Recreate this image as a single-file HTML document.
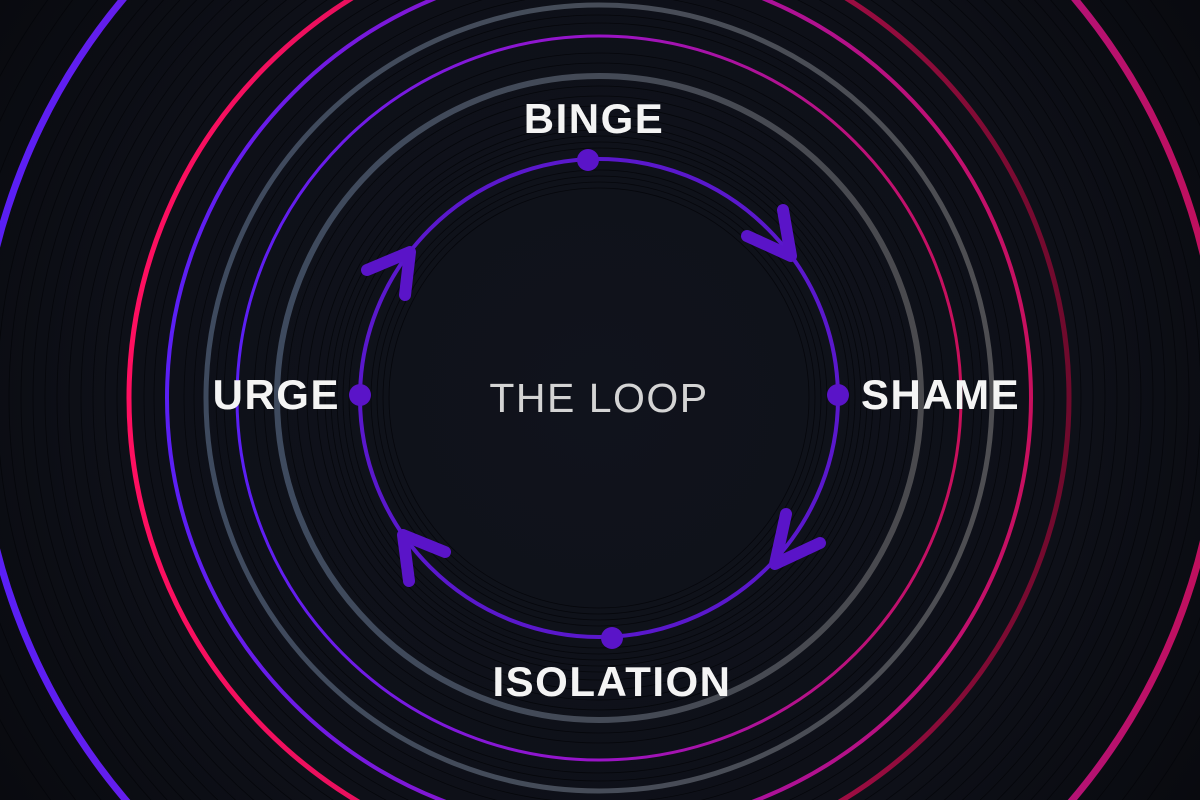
<!DOCTYPE html>
<html><head><meta charset="utf-8"><style>
html,body{margin:0;padding:0;background:#0d0f16;width:1200px;height:800px;overflow:hidden;}
svg{display:block}
</style></head><body>
<svg width="1200" height="800" viewBox="0 0 1200 800" xmlns="http://www.w3.org/2000/svg">
<defs>
<radialGradient id="bg" cx="599" cy="398" r="800" gradientUnits="userSpaceOnUse">
<stop offset="0" stop-color="#10131c"/><stop offset="0.6" stop-color="#0e1018"/><stop offset="1" stop-color="#07080c"/>
</radialGradient>
<linearGradient id="gOuter" x1="0" y1="0" x2="1200" y2="0" gradientUnits="userSpaceOnUse">
<stop offset="0" stop-color="#5a1ff5"/><stop offset="0.5" stop-color="#8a18c8"/><stop offset="1" stop-color="#c0105e"/></linearGradient>
<linearGradient id="g470" x1="129" y1="0" x2="1069" y2="0" gradientUnits="userSpaceOnUse">
<stop offset="0" stop-color="#ff0f60"/><stop offset="0.5" stop-color="#d0105a"/><stop offset="1" stop-color="#6e0a2c"/></linearGradient>
<linearGradient id="g432" x1="167" y1="0" x2="1031" y2="0" gradientUnits="userSpaceOnUse">
<stop offset="0" stop-color="#5a1ff5"/><stop offset="0.5" stop-color="#9a12c0"/><stop offset="1" stop-color="#c8105e"/></linearGradient>
<linearGradient id="g393" x1="206" y1="0" x2="992" y2="0" gradientUnits="userSpaceOnUse">
<stop offset="0" stop-color="#3e4a5e"/><stop offset="1" stop-color="#4e4e52"/></linearGradient>
<linearGradient id="g362" x1="237" y1="0" x2="961" y2="0" gradientUnits="userSpaceOnUse">
<stop offset="0" stop-color="#5a1ff5"/><stop offset="0.5" stop-color="#9a14c8"/><stop offset="1" stop-color="#c8105a"/></linearGradient>
<linearGradient id="g322" x1="277" y1="0" x2="921" y2="0" gradientUnits="userSpaceOnUse">
<stop offset="0" stop-color="#3e4a5e"/><stop offset="1" stop-color="#4a4a4e"/></linearGradient>
</defs>
<rect width="1200" height="800" fill="url(#bg)"/>
<g fill="none" stroke="#05060a" stroke-width="0.8" opacity="0.9">
<circle cx="599" cy="398" r="250"/><circle cx="599" cy="398" r="256"/><circle cx="599" cy="398" r="262"/><circle cx="599" cy="398" r="268"/><circle cx="599" cy="398" r="274"/><circle cx="599" cy="398" r="282"/><circle cx="599" cy="398" r="292"/><circle cx="599" cy="398" r="302"/><circle cx="599" cy="398" r="312"/>
<circle cx="599" cy="398" r="228"/><circle cx="599" cy="398" r="222"/><circle cx="599" cy="398" r="216"/><circle cx="599" cy="398" r="210"/>
<circle cx="599" cy="398" r="335"/><circle cx="599" cy="398" r="345"/><circle cx="599" cy="398" r="375"/><circle cx="599" cy="398" r="383"/><circle cx="599" cy="398" r="405"/><circle cx="599" cy="398" r="415"/><circle cx="599" cy="398" r="445"/><circle cx="599" cy="398" r="455"/>
<circle cx="599" cy="398" r="482"/><circle cx="599" cy="398" r="494"/><circle cx="599" cy="398" r="506"/><circle cx="599" cy="398" r="518"/><circle cx="599" cy="398" r="530"/><circle cx="599" cy="398" r="542"/><circle cx="599" cy="398" r="554"/><circle cx="599" cy="398" r="566"/><circle cx="599" cy="398" r="578"/><circle cx="599" cy="398" r="590"/><circle cx="599" cy="398" r="602"/>
<circle cx="599" cy="398" r="640"/><circle cx="599" cy="398" r="660"/><circle cx="599" cy="398" r="680"/>
</g>
<g fill="none">
<circle cx="599" cy="398" r="621" stroke="url(#gOuter)" stroke-width="7"/>
<circle cx="599" cy="398" r="470" stroke="url(#g470)" stroke-width="5"/>
<circle cx="599" cy="398" r="432" stroke="url(#g432)" stroke-width="4"/>
<circle cx="599" cy="398" r="393" stroke="url(#g393)" stroke-width="5"/>
<circle cx="599" cy="398" r="362" stroke="url(#g362)" stroke-width="3"/>
<circle cx="599" cy="398" r="322" stroke="url(#g322)" stroke-width="6"/>
<circle cx="599" cy="398" r="239" stroke="#5a18cc" stroke-width="4"/>
</g>
<g fill="none" stroke="#5a14c8" stroke-width="12" stroke-linecap="round" stroke-linejoin="round">
<polyline points="783,210 791,256 747,236"/>
<polyline points="786,514 775,564 820,543"/>
<polyline points="409,581 403,535 445,552"/>
<polyline points="367,270 410,252 405,295"/>
</g>
<g fill="#5a14c8">
<circle cx="588" cy="160" r="11"/><circle cx="838" cy="395" r="11"/><circle cx="360" cy="395" r="11"/><circle cx="612" cy="638" r="11"/>
</g>
<g font-family="'Liberation Sans',sans-serif" font-weight="bold" fill="#f4f4f4" font-size="42" letter-spacing="1.5">
<text x="594" y="133" text-anchor="middle">BINGE</text>
<text x="861" y="409">SHAME</text>
<text x="340" y="409" text-anchor="end">URGE</text>
<text x="612" y="696" text-anchor="middle">ISOLATION</text>
</g>
<text x="599" y="412" text-anchor="middle" font-family="'Liberation Sans',sans-serif" font-size="41" fill="#d4d4d4" letter-spacing="1.5">THE LOOP</text>
</svg>
</body></html>
